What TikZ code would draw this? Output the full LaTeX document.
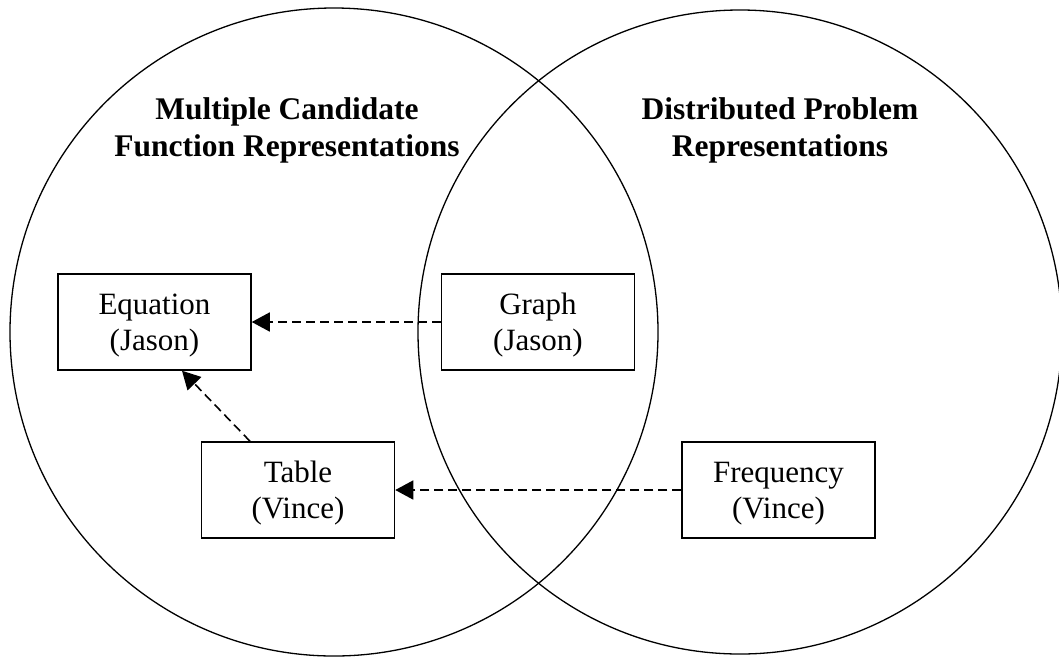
\documentclass[tikz,border=0pt]{standalone}
\usepackage{fontspec}
\setmainfont{Liberation Serif}
\usetikzlibrary{arrows.meta,calc}
\begin{document}
\begin{tikzpicture}[x=1pt,y=-1pt,
  venn/.style={draw,line width=1.3pt},
  rep/.style={draw,line width=1.5pt,minimum width=193pt,minimum height=96pt,align=center,inner sep=0pt,
    text height=58pt,text depth=2pt,font=\fontsize{31}{36}\selectfont},
  title/.style={align=center,anchor=base,font=\fontsize{31.5}{37.5}\selectfont\bfseries},
  flow/.style={line width=1.6pt,dash pattern=on 9pt off 5pt,-{Triangle[length=18pt,width=19pt]}}]
\useasboundingbox (0,0) rectangle (1059,657);
\begin{scope}
\clip (0,0) rectangle (1059,657);
\draw[venn] (334,332) circle[radius=324];
\draw[venn] (740,332) circle[radius=322];
\end{scope}
\node[title] (tl) at (287,156.5) {Multiple Candidate\\Function Representations};
\node[title] (tr) at (780,156.5) {Distributed Problem\\Representations};
\node[rep] (eq) at (154.5,322) {Equation\\(Jason)};
\node[rep] (gr) at (538,322) {Graph\\(Jason)};
\node[rep] (tb) at (298,490) {Table\\(Vince)};
\node[rep] (fq) at (778.5,490) {Frequency\\(Vince)};
\draw[flow] (gr.west) -- (eq.east);
\draw[flow] (fq.west) -- (tb.east);
\draw[flow] ($(tb.north)+(-48,0)$) -- ($(eq.south)+(27.5,0)$);
\end{tikzpicture}
\end{document}
